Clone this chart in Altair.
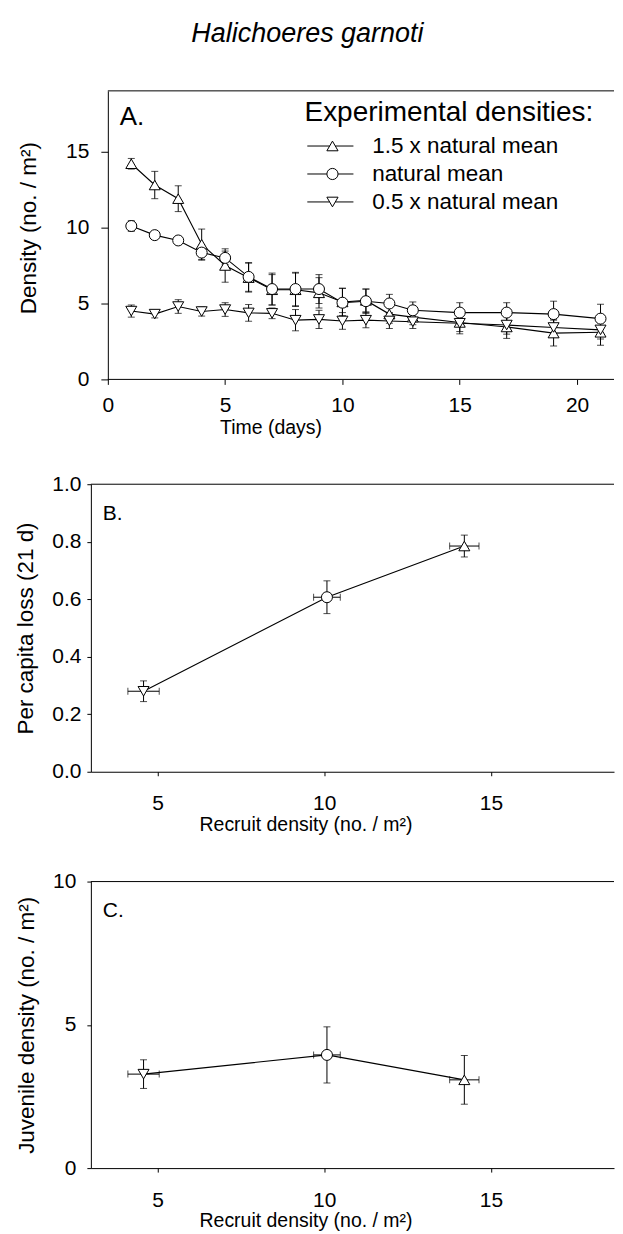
import altair as alt
import pandas as pd

FONT = "Liberation Sans"

# ---------------- data ----------------
series = ["1.5 x natural mean", "natural mean", "0.5 x natural mean"]
codes = ["hi", "nat", "lo"]
shapes = ["triangle-up", "circle", "triangle-down"]

days = [1, 2, 3, 4, 5, 6, 7, 8, 9, 10, 11, 12, 13, 15, 17, 19, 21]
high_mean = [14.2, 12.8, 11.9, 8.9, 7.5, 6.7, 5.9, 5.9, 5.7, 5.1, 5.2, 4.3, 4.1, 3.75, 3.45, 3.05, 3.1]
high_se = [0.35, 0.9, 0.85, 1.0, 1.1, 0.95, 1.0, 1.1, 1.0, 0.9, 0.75, 0.6, 0.5, 0.6, 0.75, 0.85, 0.85]
nat_mean = [10.1, 9.5, 9.15, 8.35, 8.0, 6.75, 5.95, 5.95, 5.95, 5.05, 5.15, 5.0, 4.55, 4.4, 4.4, 4.3, 4.0]
nat_se = [0.35, 0.2, 0.2, 0.5, 0.45, 0.95, 1.05, 1.1, 0.95, 0.95, 0.8, 0.6, 0.55, 0.65, 0.65, 0.85, 0.95]
low_mean = [4.5, 4.3, 4.8, 4.47, 4.6, 4.38, 4.35, 3.9, 3.95, 3.85, 3.9, 3.85, 3.8, 3.7, 3.58, 3.42, 3.26]
low_se = [0.4, 0.25, 0.45, 0.3, 0.45, 0.55, 0.35, 0.7, 0.6, 0.55, 0.5, 0.5, 0.45, 0.7, 0.6, 0.55, 0.6]

# panels B and C (order: 1.5x, natural, 0.5x)
recruit_mean = [14.2, 10.08, 4.58]
recruit_se = [0.44, 0.40, 0.47]
loss_mean = [0.785, 0.607, 0.28]
loss_se = [0.038, 0.057, 0.036]
juv_mean = [3.08, 3.95, 3.28]
juv_se = [0.85, 0.98, 0.50]

# ---------------- tables ----------------
rows = []
for name, code, m, s in zip(series, codes, [high_mean, nat_mean, low_mean], [high_se, nat_se, low_se]):
    for d, mv, sv in zip(days, m, s):
        rows.append({"series": name, "code": code, "day": d, "mean": mv, "lo": mv - sv, "hi": mv + sv})
dfA = pd.DataFrame(rows)


def panel_df(vals, ses):
    return pd.DataFrame({
        "series": series,
        "code": codes,
        "recruit": recruit_mean,
        "xlo": [m - s for m, s in zip(recruit_mean, recruit_se)],
        "xhi": [m + s for m, s in zip(recruit_mean, recruit_se)],
        "val": vals,
        "lo": [m - s for m, s in zip(vals, ses)],
        "hi": [m + s for m, s in zip(vals, ses)],
    })


dfB = panel_df(loss_mean, loss_se)
dfC = panel_df(juv_mean, juv_se)
one = pd.DataFrame({"k": [0]})

# ---------------- styles ----------------
W = 524
XA_MIN, XA_MAX = -0.7234, -0.7234 + W / 23.5
XB_MIN, XB_MAX = 3, 3 + W / 33.4
shape_enc = alt.Shape("code:N", scale=alt.Scale(domain=codes, range=shapes), legend=None)
pt_mark = dict(filled=True, fill="white", stroke="black", strokeWidth=1, size=121, opacity=1)

# legend symbols: marker with a line through it (unit = sqrt(symbolSize)/2 px)
leg_paths = [
    "M-3.6,0L-0.4,0M0.4,0L3,0M0,-0.7L0.8,0.68L-0.8,0.68Z",
    "M-3.6,0L-0.8,0M0.8,0L3,0M-0.8,0A0.8,0.8,0,1,0,0.8,0A0.8,0.8,0,1,0,-0.8,0Z",
    "M-3.6,0L-0.4,0M0.4,0L3,0M0,0.7L0.8,-0.68L-0.8,-0.68Z",
]
sig = "datum.value === '%s' ? '%s' : (datum.value === '%s' ? '%s' : '%s')" % (
    series[0], leg_paths[0], series[1], leg_paths[1], leg_paths[2])


def panel_title(txt, size, dx, offset):
    return alt.TitleParams(txt, anchor="start", frame="group", offset=offset, dx=dx,
                           baseline="alphabetic", fontSize=size, font=FONT,
                           fontWeight="normal", color="black")


# ---------------- panel A ----------------
xA_scale = alt.Scale(domain=[XA_MIN, XA_MAX], nice=False, zero=False)
yA_scale = alt.Scale(domain=[0, 19], nice=False, zero=False)
xA_axis = alt.Axis(title="Time (days)", values=[0, 5, 10, 15, 20], domain=False,
                   tickSize=5, labelPadding=10, titlePadding=3, titleX=180, titleAlign="center")
yA_axis = alt.Axis(title="Density (no. / m²)", values=[0, 5, 10, 15], offset=-17,
                   tickSize=7, labelPadding=12, titlePadding=25, titleY=137)


def xA(f):
    return alt.X(f, type="quantitative", scale=xA_scale, axis=xA_axis)


def yA(f):
    return alt.Y(f, type="quantitative", scale=yA_scale, axis=yA_axis)


legendA = alt.Legend(
    orient="none", legendX=214, legendY=8, title="Experimental densities:",
    titleFont=FONT, titleFontSize=28, titleFontWeight="normal", titleColor="black",
    titlePadding=8, titleLimit=500, labelFont=FONT, labelFontSize=22.5, labelColor="black",
    labelLimit=500, symbolType=alt.ExprRef(sig), symbolSize=196, symbolStrokeWidth=1,
    symbolStrokeColor="black", symbolFillColor="white", symbolOffset=16.75, labelOffset=28.5,
    rowPadding=5, padding=0,
)

frameA_top = alt.Chart(one).mark_rule(color="black", strokeWidth=1).encode(
    x=alt.datum(0, type="quantitative", scale=xA_scale, axis=xA_axis),
    x2=alt.datum(XA_MAX), y=alt.datum(19, type="quantitative", scale=yA_scale, axis=yA_axis))
frameA_bot = alt.Chart(one).mark_rule(color="black", strokeWidth=1).encode(
    x=alt.datum(0, type="quantitative"), x2=alt.datum(XA_MAX), y=alt.datum(0, type="quantitative"))

lineA = alt.Chart(dfA).mark_line(strokeWidth=1.1).encode(
    x=xA("day"), y=yA("mean"),
    color=alt.Color("series:N", scale=alt.Scale(domain=series, range=["black"] * 3), legend=legendA))
errA = alt.Chart(dfA).mark_rule(color="black", strokeWidth=1).encode(x=xA("day"), y=yA("lo"), y2="hi")
capA1 = alt.Chart(dfA).mark_tick(color="black", orient="horizontal", size=7, thickness=1).encode(
    x=xA("day"), y=yA("lo"))
capA2 = alt.Chart(dfA).mark_tick(color="black", orient="horizontal", size=7, thickness=1).encode(
    x=xA("day"), y=yA("hi"))
ptsA = alt.Chart(dfA).mark_point(**pt_mark).encode(x=xA("day"), y=yA("mean"), shape=shape_enc)

A = alt.layer(frameA_top, frameA_bot, lineA, errA, capA1, capA2, ptsA).properties(
    width=W, height=289, title=panel_title("A.", 26, 29, -61))


# ---------------- panels B and C ----------------
def recruit_panel(df, ydomain, yvalues, yfmt, ytitle, height, label, ylabpad, ytitlepad, toff):
    xs = alt.Scale(domain=[XB_MIN, XB_MAX], nice=False, zero=False)
    xa = alt.Axis(title="Recruit density (no. / m²)", values=[5, 10, 15], tickSize=4,
                  labelPadding=17, titlePadding=2, titleX=215, titleAlign="center")
    ys = alt.Scale(domain=ydomain, nice=False, zero=False)
    ya = alt.Axis(title=ytitle, values=yvalues, format=yfmt, tickSize=4,
                  labelPadding=ylabpad, titlePadding=ytitlepad)

    def X(f):
        return alt.X(f, type="quantitative", scale=xs, axis=xa)

    def Y(f):
        return alt.Y(f, type="quantitative", scale=ys, axis=ya)

    top = alt.Chart(one).mark_rule(color="black", strokeWidth=1).encode(
        y=alt.datum(ydomain[1], type="quantitative", scale=ys, axis=ya))
    line = alt.Chart(df).mark_line(color="black", strokeWidth=1.1).encode(x=X("recruit"), y=Y("val"))
    ev = alt.Chart(df).mark_rule(color="black", strokeWidth=1).encode(x=X("recruit"), y=Y("lo"), y2="hi")
    eh = alt.Chart(df).mark_rule(color="black", strokeWidth=1).encode(x=X("xlo"), x2="xhi", y=Y("val"))
    c1 = alt.Chart(df).mark_tick(color="black", orient="horizontal", size=7, thickness=1).encode(
        x=X("recruit"), y=Y("lo"))
    c2 = alt.Chart(df).mark_tick(color="black", orient="horizontal", size=7, thickness=1).encode(
        x=X("recruit"), y=Y("hi"))
    c3 = alt.Chart(df).mark_tick(color="black", orient="vertical", size=7, thickness=1).encode(
        x=X("xlo"), y=Y("val"))
    c4 = alt.Chart(df).mark_tick(color="black", orient="vertical", size=7, thickness=1).encode(
        x=X("xhi"), y=Y("val"))
    pts = alt.Chart(df).mark_point(**pt_mark).encode(x=X("recruit"), y=Y("val"), shape=shape_enc)
    return alt.layer(top, line, ev, eh, c1, c2, c3, c4, pts).properties(
        width=W, height=height, title=panel_title(label, 21, 12, toff))


B = recruit_panel(dfB, [0, 1], [0, 0.2, 0.4, 0.6, 0.8, 1.0], ".1f", "Per capita loss (21 d)",
                  288, "B.", 6, 14.5, -68)
C = recruit_panel(dfC, [0, 10], [0, 5, 10], "d", "Juvenile density (no. / m²)",
                  287, "C.", 11, 14, -67)

chart = alt.vconcat(A, B, C, spacing=36).properties(
    title=alt.TitleParams("Halichoeres garnoti", font=FONT, fontSize=27, fontStyle="italic",
                          fontWeight="normal", color="black", anchor="middle", dx=-7,
                          offset=21.5, baseline="alphabetic"),
    padding={"left": 6, "top": 11, "right": 0, "bottom": 0},
).configure_view(stroke=None).configure_axis(
    labelFont=FONT, titleFont=FONT, labelFontSize=21, labelColor="black", titleColor="black",
    titleFontWeight="normal", domainColor="black", tickColor="black", grid=False,
    domainWidth=1, tickWidth=1,
).configure_axisX(titleFontSize=19.5).configure_axisY(titleFontSize=22.5)

chart.save("out.html", embed_options={"renderer": "svg", "actions": False})
